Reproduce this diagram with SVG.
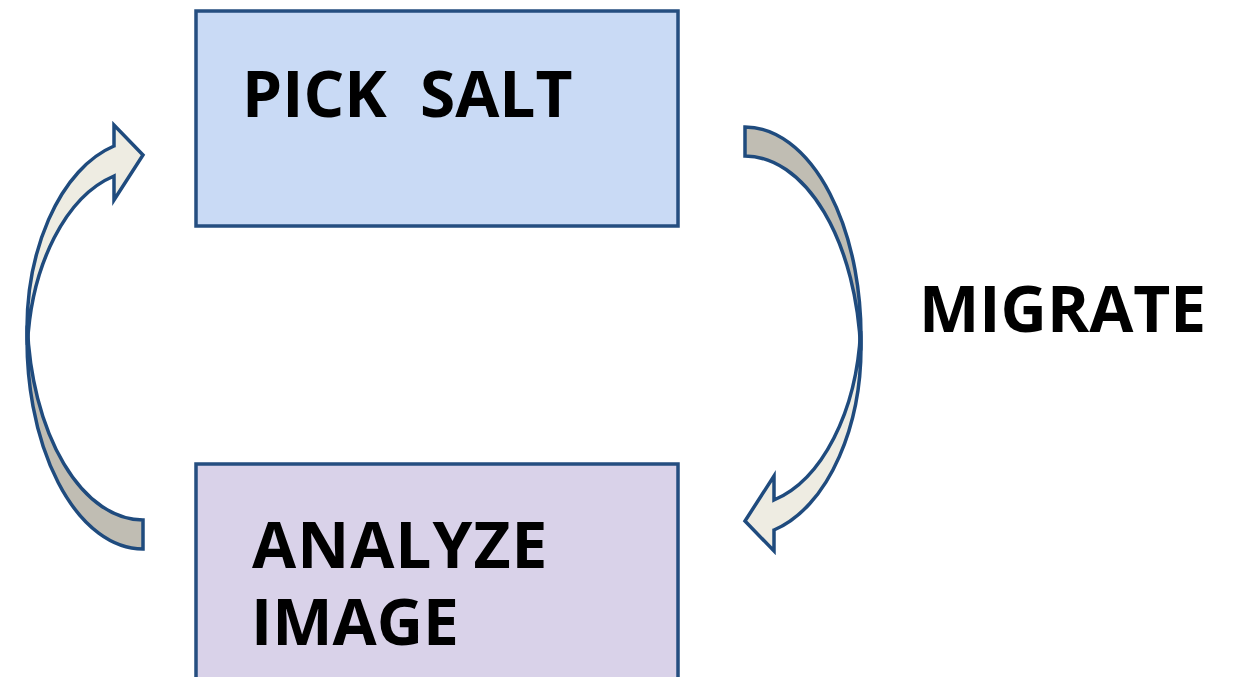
<svg xmlns="http://www.w3.org/2000/svg" width="1242" height="677" viewBox="0 0 1242 677">
<style>
.box{stroke:#254E80;stroke-width:3.5}
.lbl{font-family:"Open Sans","Liberation Sans",sans-serif;font-weight:bold;font-size:64px;fill:#000;white-space:pre}
.dark{fill:#C0BDB3;stroke:#1F4B7E;stroke-width:3.5;stroke-linejoin:miter}
.light{fill:#EEECE2;stroke:#1F4B7E;stroke-width:3.5;stroke-linejoin:miter}
</style>
<defs>
<g id="curved">
<path class="dark" d="M143,549 A116,209 0 0 1 27.3,325.5 A116,209 0 0 0 143,520 Z"/>
<path class="light" d="M27.4,345 A116,190 0 0 1 114,146 L114,125 L143,155 L114,200 L114,176 A116,190 0 0 0 27.4,345 Z"/>
</g>
</defs>
<rect width="1242" height="677" fill="#fff"/>
<g id="connectors">
<use href="#curved"/>
<use href="#curved" transform="rotate(180 444 338)"/>
</g>
<g id="pick-salt">
<rect class="box" x="196" y="11" width="482" height="215" fill="#C9DAF5"/>
<text class="lbl" x="242" y="117">PICK  SALT</text>
</g>
<g id="analyze-image">
<rect class="box" x="196" y="464" width="482" height="230" fill="#D9D2E9"/>
<text class="lbl"><tspan x="252" y="568" letter-spacing="1">ANALYZE</tspan><tspan x="251" y="645" letter-spacing="0">IMAGE</tspan></text>
</g>
<g id="migrate">
<text class="lbl" x="919" y="332">MIGRATE</text>
</g>
</svg>
